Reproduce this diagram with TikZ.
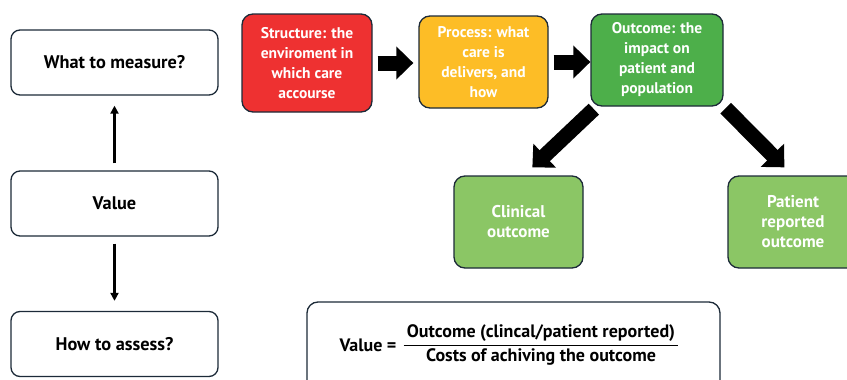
\documentclass[tikz,border=0pt]{standalone}
\usepackage{fontspec}
\setmainfont{PT Sans}
\usetikzlibrary{arrows.meta,calc}
\definecolor{edge}{HTML}{1C2A38}
\definecolor{cred}{HTML}{EE3131}
\definecolor{cyellow}{HTML}{FDBD26}
\definecolor{cgreen}{HTML}{4DAF4A}
\definecolor{clgreen}{HTML}{8BC665}
\tikzset{
  whitebox/.style={draw=edge, line width=1.3pt, rounded corners=9pt, fill=white,
    minimum width=207pt, minimum height=65pt, inner sep=0pt,
    font=\bfseries\fontsize{18.3}{22}\selectfont},
  colbox/.style={draw=edge, line width=1.3pt, rounded corners=11pt,
    minimum width=130pt, minimum height=92pt, inner sep=0pt,
    text=white, align=center, font=\bfseries\fontsize{15.5}{20}\selectfont},
  subbox/.style={colbox, fill=clgreen, font=\bfseries\fontsize{17}{20}\selectfont},
  blockarrow/.style={draw=black, line width=15pt, -{Triangle[width=32pt,length=17pt]}},
  thinarrow/.style={draw=black, line width=2.2pt, -{Triangle[width=8pt,length=8pt]}},
  formtext/.style={font=\bfseries\fontsize{18}{20}\selectfont, inner sep=1pt},
}
\begin{document}
\begin{tikzpicture}[x=1pt, y=-1pt]
  \useasboundingbox (0,0) rectangle (847,380);
  \clip (0,0) rectangle (847,380);
  \fill[white] (0,0) rectangle (847,380);

  % left column: value and its two questions
  \node[whitebox] (measure) at (114.5,62.5) {What to measure?};
  \node[whitebox] (value)   at (114.5,203.5) {Value};
  \node[whitebox] (assess)  at (114.5,344) {How to assess?};
  \draw[thinarrow, shorten <=7pt, shorten >=10pt] (value.south) -- (assess.north);
  \draw[thinarrow, shorten <=7pt, shorten >=10pt] (value.north) -- (measure.south);

  % structure - process - outcome chain
  \node[colbox, fill=cred, minimum height=98pt] (structure) at (307,63)
    {Structure: the\\enviroment in\\which care\\accourse};
  \node[colbox, fill=cyellow, minimum width=129pt] (process) at (483.5,62)
    {Process: what\\care is\\delivers, and\\how};
  \node[colbox, fill=cgreen, minimum width=132pt] (outcome) at (657,60)
    {Outcome: the\\impact on\\patient and\\population};
  \node[subbox, minimum width=129pt] (clinical) at (518.5,222)
    {Clinical\\outcome};
  \node[subbox] (patient) at (793,222)
    {Patient\\reported\\outcome};

  \draw[blockarrow, shorten <=5pt, shorten >=5pt] (structure.east) -- (structure.east -| process.west);
  \draw[blockarrow, shorten <=5pt] (process.east) -- (process.east -| outcome.west);

  \coordinate (lstart) at ($(outcome.south west)+(3.5,2.5)$);
  \coordinate (ltip)   at ($(clinical.north west)+(79,-8)$);
  \coordinate (rstart) at ($(outcome.south east)+(2,1.5)$);
  \coordinate (rtip)   at ($(patient.north west)+(57,-8)$);
  \draw[blockarrow] (lstart) -- (ltip);
  \draw[blockarrow] (rstart) -- (rtip);

  % value formula
  \node[draw=edge, line width=1.3pt, rounded corners=11pt, minimum width=413pt,
        minimum height=92pt] (formula) at (513.5,348) {};
  \node[formtext] (vlabel) at (368,345) {Value =};
  \node[formtext, anchor=south] (num) at (541,343) {Outcome (clincal/patient reported)};
  \node[formtext, anchor=north] (den) at (541,347) {Costs of achiving the outcome};
  \draw[line width=1pt] ($(num.south west)+(-2,2)$) -- ($(num.south east)+(2,2)$);
\end{tikzpicture}
\end{document}
